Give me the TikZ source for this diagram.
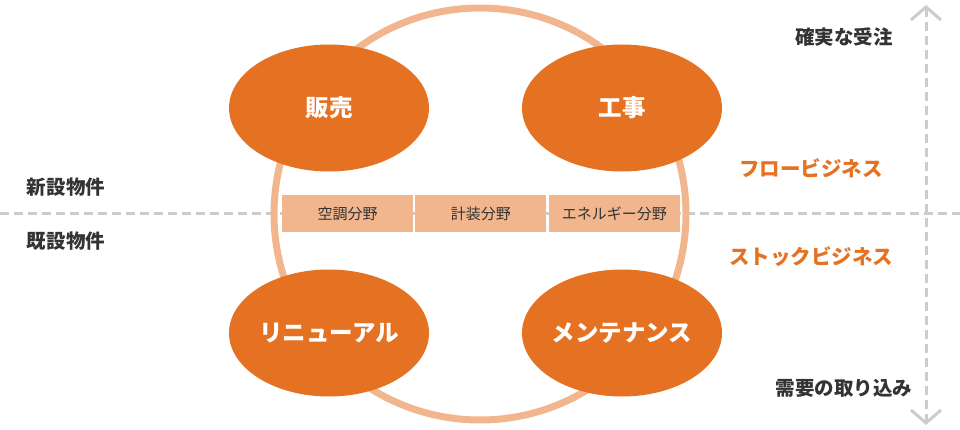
\documentclass[tikz,border=0pt]{standalone}
\usepackage{fontspec}
\setmainfont{Noto Sans CJK JP}
\usetikzlibrary{shapes.geometric,positioning,arrows.meta}
\definecolor{deeporange}{HTML}{E57222}
\definecolor{paleorange}{HTML}{F1B68D}
\definecolor{guidegrey}{HTML}{CCCCCC}
\definecolor{darktext}{HTML}{333333}

\begin{document}
\begin{tikzpicture}[x=1pt, y=-1pt,
    biz/.style = {shape=ellipse, fill=deeporange, text=white,
      minimum width=200pt, minimum height=127pt, inner sep=0pt,
      font=\fontsize{23.5}{27}\selectfont\bfseries},
    field/.style = {shape=rectangle, fill=paleorange, text=darktext,
      minimum width=131pt, minimum height=37pt, inner sep=0pt,
      font=\fontsize{15}{18}\selectfont},
    side/.style = {text=darktext, font=\fontsize{19.5}{23}\selectfont\bfseries},
    flow/.style = {text=deeporange, font=\fontsize{20.5}{24}\selectfont\bfseries},
    guide/.style = {draw=guidegrey, line width=3pt, dash pattern=on 9pt off 5pt}]
  \useasboundingbox (0,0) rectangle (960,430);

  % guide lines
  \coordinate (rowleft) at (0,214);
  \coordinate (rowright) at (960,214);
  \coordinate (axtop) at (926,5);
  \coordinate (axbottom) at (926,425);
  \draw[guide] (rowleft) -- (rowright);
  \draw[guide, {Straight Barb[length=13pt,width=30pt]}-{Straight Barb[length=13pt,width=30pt]}]
    (axtop) -- (axbottom);

  % cycle
  \draw[paleorange, line width=7pt] (480,214) circle[radius=206];

  \node[field] (aircon) at (347.5,214) {空調分野};
  \node[field, right=2pt of aircon] (instrument) {計装分野};
  \node[field, right=2pt of instrument] (energy) {エネルギー分野};

  \node[biz] (sales) at (329,108) {販売};
  \node[biz] (works) at (622,108) {工事};
  \node[biz] (renewal) at (329,333) {リニューアル};
  \node[biz] (maintenance) at (622,333) {メンテナンス};

  % labels
  \node[side] (newbuild) at (66,187) {新設物件};
  \node[side] (existing) at (66,241) {既設物件};
  \node[side] (orders) at (844,37) {確実な受注};
  \node[side] (demand) at (844,388) {需要の取り込み};
  \node[flow] (flowbiz) at (811,168) {フロービジネス};
  \node[flow] (stockbiz) at (811,257) {ストックビジネス};
\end{tikzpicture}
\end{document}
